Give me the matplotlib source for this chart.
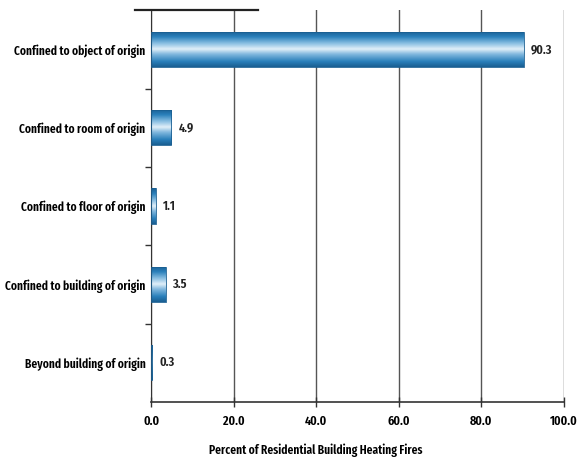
import numpy as np
import matplotlib
matplotlib.use('Agg')
import matplotlib.pyplot as plt
from matplotlib.colors import LinearSegmentedColormap

categories = ['Confined to object of origin', 'Confined to room of origin',
              'Confined to floor of origin', 'Confined to building of origin',
              'Beyond building of origin']
values = [90.3, 4.9, 1.1, 3.5, 0.3]
x_ticks = [0, 20, 40, 60, 80, 100]
x_label = 'Percent of Residential Building Heating Fires'

plt.rcParams['font.family'] = ['Fira Sans Extra Condensed', 'DejaVu Sans']
plt.rcParams['font.weight'] = 600
plt.rcParams['axes.labelweight'] = 600

# cylinder-like shading for the bars
cyl = LinearSegmentedColormap.from_list('cyl', [
    (0.0, '#1a5f92'), (0.15, '#2a80bb'), (0.35, '#8fc2e4'),
    (0.5, '#e2f0f9'), (0.65, '#7fb6dd'), (0.85, '#2a80bb'), (1.0, '#1a5f92')])

fig = plt.figure(figsize=(5.79, 4.62), dpi=100)
ax = fig.add_axes([0.261, 0.13, 0.713, 0.848])

pos = np.arange(len(categories))
bars = ax.barh(pos, values, height=0.45, color='none', edgecolor='#1a5f92', linewidth=0.6, zorder=3)
grad = np.linspace(0, 1, 64).reshape(-1, 1)
for b in bars:
    x0, y0 = b.get_x(), b.get_y()
    w, h = b.get_width(), b.get_height()
    im = ax.imshow(grad, cmap=cyl, aspect='auto', extent=[x0, x0 + w, y0 + h, y0],
                   interpolation='bilinear', zorder=2)
    im.set_clip_path(b)

for p, v in zip(pos, values):
    ax.annotate(f'{v:.1f}', (v, p), xytext=(5, 0), textcoords='offset points',
                ha='left', va='center', fontsize=9.5, color='#222222')

ax.set_xlim(0, 100)
ax.set_ylim(len(categories) - 0.5, -0.5)
ax.set_xticks(x_ticks)
ax.set_xticklabels([f'{t:.1f}' for t in x_ticks], fontsize=9.5)
ax.set_yticks(pos)
ax.set_yticklabels(categories, fontsize=9)
ax.set_yticks(np.arange(len(categories) - 1) + 0.5, minor=True)
ax.tick_params(axis='y', which='major', length=0, pad=4)
ax.tick_params(axis='y', which='minor', length=4, width=1, direction='out', color='#333333')
ax.tick_params(axis='x', length=7, width=1, direction='inout', pad=6, color='#333333')
ax.set_xlabel(x_label, fontsize=9, fontweight=600)
ax.xaxis.set_label_coords(0.40, -0.105)

ax.xaxis.grid(True, color='#555555', linewidth=1, zorder=0)
ax.set_axisbelow(True)
for s in ['top', 'right']:
    ax.spines[s].set_visible(False)
ax.spines['left'].set_color('#333333')
ax.spines['bottom'].set_color('#333333')
ax.spines['bottom'].set_linewidth(1.2)
# short dark line along the top edge
ax.plot([-4, 26], [-0.5, -0.5], color='#222222', linewidth=1.6, clip_on=False, zorder=4)

fig.savefig('out.png', dpi=100, facecolor='white')
